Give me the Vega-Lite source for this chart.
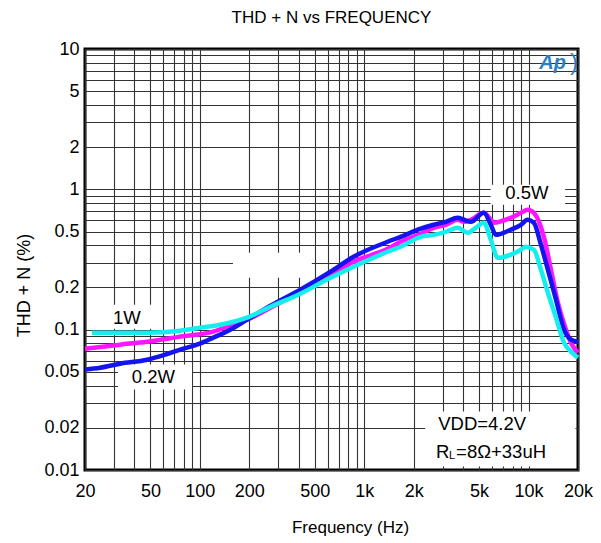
{
  "$schema": "https://vega.github.io/schema/vega-lite/v6.json",
  "width": 493,
  "height": 421,
  "autosize": {"type": "none"},
  "padding": {"left": 85, "top": 49, "right": 23, "bottom": 73},
  "background": "white",
  "config": {
    "view": {"stroke": "black", "strokeWidth": 3},
    "font": "Liberation Sans"
  },
  "title": {"text": "THD + N vs FREQUENCY", "fontSize": 17, "fontWeight": "normal", "font": "Liberation Sans", "color": "black", "offset": 13},
  "data": {"values": [{}]},
  "datasets": {
    "p05": [
      {"freq": 20, "thd": 0.0732}, {"freq": 32.7, "thd": 0.0782}, {"freq": 47.8, "thd": 0.0821}, {"freq": 75.9, "thd": 0.0892},
      {"freq": 120.6, "thd": 0.0968}, {"freq": 153, "thd": 0.1068}, {"freq": 194, "thd": 0.1178}, {"freq": 269, "thd": 0.1434},
      {"freq": 409, "thd": 0.1865}, {"freq": 624, "thd": 0.246}, {"freq": 862, "thd": 0.305}, {"freq": 1388, "thd": 0.377},
      {"freq": 1666, "thd": 0.423}, {"freq": 2208, "thd": 0.482}, {"freq": 2648, "thd": 0.532}, {"freq": 3134, "thd": 0.559},
      {"freq": 3710, "thd": 0.607}, {"freq": 4036, "thd": 0.587}, {"freq": 4452, "thd": 0.607}, {"freq": 5344, "thd": 0.68},
      {"freq": 5896, "thd": 0.607}, {"freq": 6150, "thd": 0.578}, {"freq": 7800, "thd": 0.627}, {"freq": 8986, "thd": 0.68},
      {"freq": 9870, "thd": 0.715}, {"freq": 10780, "thd": 0.68}, {"freq": 12400, "thd": 0.459}, {"freq": 13692, "thd": 0.267},
      {"freq": 15100, "thd": 0.1557}, {"freq": 16900, "thd": 0.1}, {"freq": 18370, "thd": 0.0782}, {"freq": 20000, "thd": 0.0686}
    ],
    "p02": [
      {"freq": 20, "thd": 0.0519}, {"freq": 24.7, "thd": 0.0535}, {"freq": 32.7, "thd": 0.0572}, {"freq": 47.8, "thd": 0.0611},
      {"freq": 61.5, "thd": 0.0664}, {"freq": 75.9, "thd": 0.0721}, {"freq": 100, "thd": 0.0795}, {"freq": 120.6, "thd": 0.0877},
      {"freq": 153, "thd": 0.1}, {"freq": 194, "thd": 0.1178}, {"freq": 269, "thd": 0.1482}, {"freq": 409, "thd": 0.1927},
      {"freq": 624, "thd": 0.259}, {"freq": 862, "thd": 0.331}, {"freq": 1388, "thd": 0.423}, {"freq": 1666, "thd": 0.459},
      {"freq": 2208, "thd": 0.524}, {"freq": 2648, "thd": 0.559}, {"freq": 3134, "thd": 0.587}, {"freq": 3710, "thd": 0.627},
      {"freq": 4036, "thd": 0.607}, {"freq": 4452, "thd": 0.587}, {"freq": 5344, "thd": 0.68}, {"freq": 5896, "thd": 0.559},
      {"freq": 6325, "thd": 0.474}, {"freq": 6784, "thd": 0.482}, {"freq": 7800, "thd": 0.515}, {"freq": 8986, "thd": 0.559},
      {"freq": 9870, "thd": 0.607}, {"freq": 10780, "thd": 0.578}, {"freq": 11898, "thd": 0.403}, {"freq": 13120, "thd": 0.267},
      {"freq": 14690, "thd": 0.1635}, {"freq": 16440, "thd": 0.1}, {"freq": 18132, "thd": 0.0849}, {"freq": 20000, "thd": 0.0821}
    ],
    "p1": [
      {"freq": 22, "thd": 0.0952}, {"freq": 32.7, "thd": 0.0952}, {"freq": 47.8, "thd": 0.0952}, {"freq": 75.9, "thd": 0.0984},
      {"freq": 100, "thd": 0.1033}, {"freq": 133, "thd": 0.1085}, {"freq": 194, "thd": 0.1218}, {"freq": 269, "thd": 0.1458},
      {"freq": 409, "thd": 0.1804}, {"freq": 624, "thd": 0.2345}, {"freq": 862, "thd": 0.281}, {"freq": 1388, "thd": 0.359},
      {"freq": 1666, "thd": 0.39}, {"freq": 2208, "thd": 0.459}, {"freq": 2648, "thd": 0.474}, {"freq": 3134, "thd": 0.498},
      {"freq": 3710, "thd": 0.532}, {"freq": 4268, "thd": 0.49}, {"freq": 4776, "thd": 0.532}, {"freq": 5344, "thd": 0.578},
      {"freq": 5896, "thd": 0.437}, {"freq": 6500, "thd": 0.325}, {"freq": 7800, "thd": 0.342}, {"freq": 8986, "thd": 0.371},
      {"freq": 9640, "thd": 0.39}, {"freq": 10780, "thd": 0.371}, {"freq": 11898, "thd": 0.267}, {"freq": 13120, "thd": 0.1834},
      {"freq": 14690, "thd": 0.1218}, {"freq": 16440, "thd": 0.0808}, {"freq": 18132, "thd": 0.0697}, {"freq": 20000, "thd": 0.0632}
    ]
  },
  "layer": [
    {
      "mark": {"type": "rect", "fill": "white"},
      "encoding": {
        "x": {"datum": 24, "type": "quantitative",
          "scale": {"type": "log", "domain": [20, 20000], "nice": false},
          "axis": {
            "values": [20,30,40,50,60,70,80,90,100,200,300,400,500,600,700,800,900,1000,2000,3000,4000,5000,6000,7000,8000,9000,10000,20000],
            "format": "~s",
            "labelExpr": "indexof([20,50,100,200,500,1000,2000,5000,10000,20000], datum.value) >= 0 ? datum.label : ''",
            "grid": true, "gridColor": "#333333", "gridWidth": 1.1, "gridOpacity": 1,
            "ticks": false, "domain": false,
            "labelFontSize": 18, "labelColor": "black", "labelPadding": 12, "labelFont": "Liberation Sans", "labelFlush": false,
            "title": "Frequency (Hz)", "titleFontSize": 17, "titleFontWeight": "normal", "titleColor": "black",
            "titleX": 265, "titleY": 57, "titleBaseline": "middle", "titleAnchor": "start", "titleAlign": "center"
          }
        },
        "x2": {"datum": 57},
        "y": {"datum": 0.1507, "type": "quantitative",
          "scale": {"type": "log", "domain": [0.01, 10], "nice": false},
          "axis": {
            "values": [0.01,0.02,0.03,0.04,0.05,0.06,0.07,0.08,0.09,0.1,0.2,0.3,0.4,0.5,0.6,0.7,0.8,0.9,1,2,3,4,5,6,7,8,9,10],
            "format": "~g",
            "labelExpr": "indexof([0.01,0.02,0.05,0.1,0.2,0.5,1,2,5,10], datum.value) >= 0 ? datum.label : ''",
            "grid": true, "gridColor": "#333333", "gridWidth": 1.1, "gridOpacity": 1,
            "ticks": false, "domain": false,
            "labelFontSize": 18, "labelColor": "black", "labelPadding": 6, "labelFont": "Liberation Sans", "labelFlush": false,
            "title": "THD + N  (%)", "titleFontSize": 18, "titleFontWeight": "normal", "titleColor": "black",
            "titleX": -61, "titleY": 236, "titleAngle": 270, "titleBaseline": "middle", "titleAlign": "center", "titleAnchor": "start"
          }
        },
        "y2": {"datum": 0.1016}
      }
    },
    {
      "mark": {"type": "rect", "fill": "white"},
      "encoding": {"x": {"datum": 31.8}, "x2": {"datum": 89.6}, "y": {"datum": 0.0564}, "y2": {"datum": 0.0374}}
    },
    {
      "mark": {"type": "rect", "fill": "white"},
      "encoding": {"x": {"datum": 5880}, "x2": {"datum": 16700}, "y": {"datum": 1.077}, "y2": {"datum": 0.776}}
    },
    {
      "mark": {"type": "rect", "fill": "white"},
      "encoding": {"x": {"datum": 159}, "x2": {"datum": 480}, "y": {"datum": 0.353}, "y2": {"datum": 0.2345}}
    },
    {
      "mark": {"type": "rect", "fill": "white"},
      "encoding": {"x": {"datum": 2352}, "x2": {"datum": 19300}, "y": {"datum": 0.0261}, "y2": {"datum": 0.0106}}
    },
    {
      "data": {"name": "p05"},
      "mark": {"type": "line", "color": "#ff14ff", "strokeWidth": 4.5, "interpolate": "monotone"},
      "encoding": {"x": {"field": "freq", "type": "quantitative"}, "y": {"field": "thd", "type": "quantitative"}}
    },
    {
      "data": {"name": "p02"},
      "mark": {"type": "line", "color": "#1414ee", "strokeWidth": 4.5, "interpolate": "monotone"},
      "encoding": {"x": {"field": "freq", "type": "quantitative"}, "y": {"field": "thd", "type": "quantitative"}}
    },
    {
      "data": {"name": "p1"},
      "mark": {"type": "line", "color": "#14eeee", "strokeWidth": 4.5, "interpolate": "monotone"},
      "encoding": {"x": {"field": "freq", "type": "quantitative"}, "y": {"field": "thd", "type": "quantitative"}}
    },
    {
      "mark": {"type": "text", "text": "1W", "fontSize": 18.5, "font": "Liberation Sans", "color": "black", "align": "center", "baseline": "middle"},
      "encoding": {"x": {"datum": 35.9}, "y": {"datum": 0.1218}}
    },
    {
      "mark": {"type": "text", "text": "0.2W", "fontSize": 18.5, "font": "Liberation Sans", "color": "black", "align": "center", "baseline": "middle"},
      "encoding": {"x": {"datum": 52.2}, "y": {"datum": 0.0459}}
    },
    {
      "mark": {"type": "text", "text": "0.5W", "fontSize": 18.5, "font": "Liberation Sans", "color": "black", "align": "center", "baseline": "middle"},
      "encoding": {"x": {"datum": 9760}, "y": {"datum": 0.944}}
    },
    {
      "mark": {"type": "text", "text": "VDD=4.2V", "fontSize": 18.5, "font": "Liberation Sans", "color": "black", "align": "center", "baseline": "middle"},
      "encoding": {"x": {"datum": 5220}, "y": {"datum": 0.0211}}
    },
    {
      "mark": {"type": "text", "text": "R", "fontSize": 18.5, "font": "Liberation Sans", "color": "black", "align": "left", "baseline": "middle"},
      "encoding": {"x": {"datum": 2734}, "y": {"datum": 0.01333}}
    },
    {
      "mark": {"type": "text", "text": "L", "fontSize": 11, "font": "Liberation Sans", "color": "black", "align": "left", "baseline": "middle", "dy": 4},
      "encoding": {"x": {"datum": 3286}, "y": {"datum": 0.01333}}
    },
    {
      "mark": {"type": "text", "text": "=8Ω+33uH", "fontSize": 18.5, "font": "Liberation Sans", "color": "black", "align": "left", "baseline": "middle"},
      "encoding": {"x": {"datum": 3624}, "y": {"datum": 0.01333}}
    },
    {
      "mark": {"type": "text", "text": "Ap", "fontSize": 20, "font": "Liberation Sans", "fontStyle": "italic", "fontWeight": "bold", "color": "#2a7fc0", "align": "center", "baseline": "middle"},
      "encoding": {"x": {"datum": 14000}, "y": {"datum": 7.9}}
    },
    {
      "mark": {"type": "text", "text": ")", "fontSize": 24, "font": "Liberation Sans", "color": "#2a7fc0", "align": "center", "baseline": "middle"},
      "encoding": {"x": {"datum": 18900}, "y": {"datum": 7.9}}
    }
  ]
}
